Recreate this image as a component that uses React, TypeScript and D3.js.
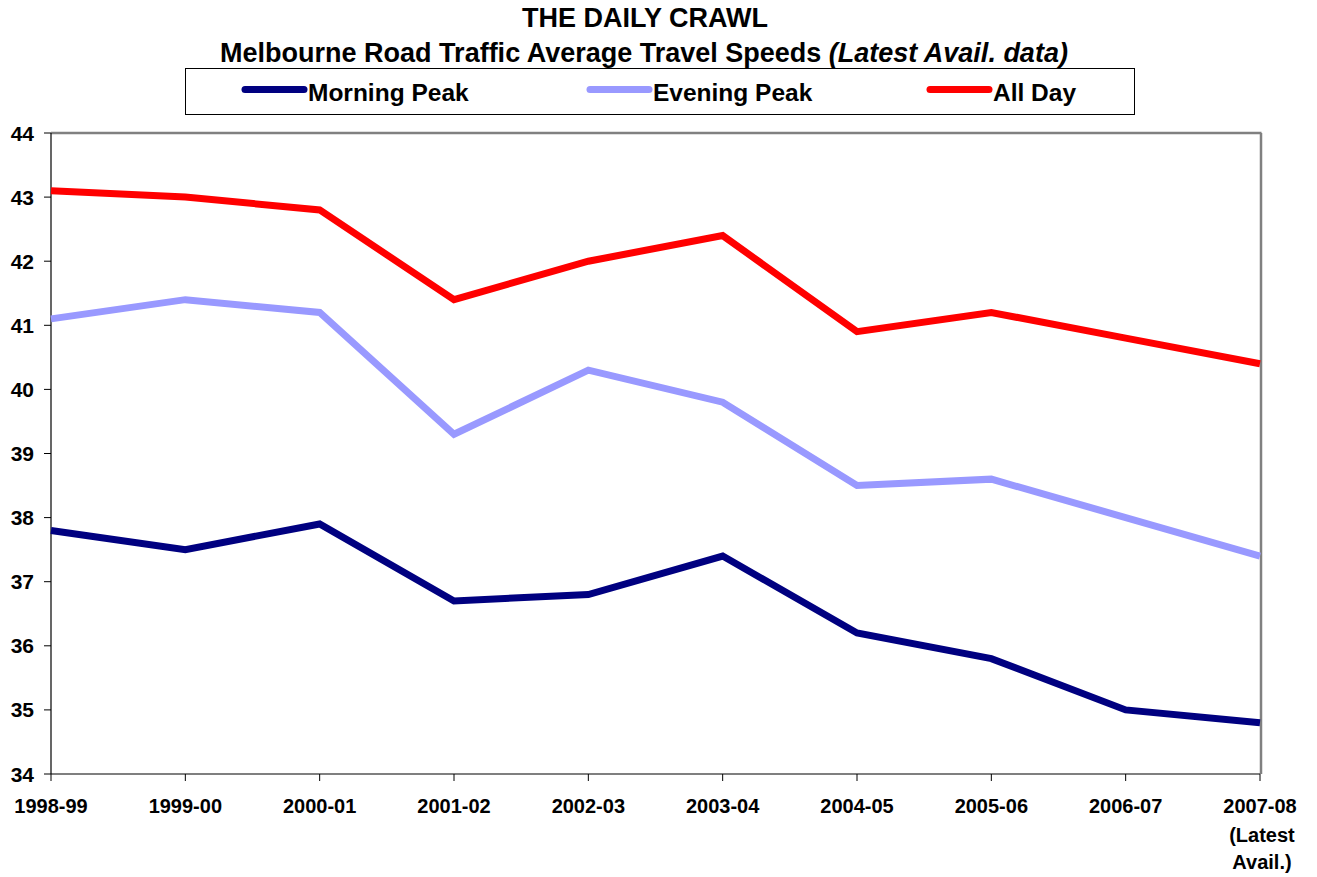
import React from "react";
import * as d3 from "d3";

const years = ["1998-99", "1999-00", "2000-01", "2001-02", "2002-03", "2003-04", "2004-05", "2005-06", "2006-07", "2007-08"];
const morningPeak = [37.8, 37.5, 37.9, 36.7, 36.8, 37.4, 36.2, 35.8, 35.0, 34.8];
const eveningPeak = [41.1, 41.4, 41.2, 39.3, 40.3, 39.8, 38.5, 38.6, 38.0, 37.4];
const allDay = [43.1, 43.0, 42.8, 41.4, 42.0, 42.4, 40.9, 41.2, 40.8, 40.4];
const yTicks = [34, 35, 36, 37, 38, 39, 40, 41, 42, 43, 44];

const series = [
  { name: "Morning Peak", values: morningPeak, color: "#000080", legendX: 245 },
  { name: "Evening Peak", values: eveningPeak, color: "#9999FF", legendX: 590 },
  { name: "All Day", values: allDay, color: "#FF0000", legendX: 930 },
];

const W = 1317;
const H = 877;
const left = 51;
const right = 1260;
const top = 133;
const bottom = 774;
const font = "Arial, 'Liberation Sans', sans-serif";

export default function App() {
  const x = d3.scalePoint<string>().domain(years).range([left, right]);
  const y = d3.scaleLinear().domain([34, 44]).range([bottom, top]);
  const line = d3
    .line<number>()
    .x((_, i) => x(years[i]) as number)
    .y((d) => y(d));

  return (
    <svg
      width={W}
      height={H}
      style={{ position: "absolute", left: 0, top: 0, background: "#fff" }}
      fontFamily={font}
      fontWeight="bold"
    >
      <rect width={W} height={H} fill="#fff" />
      <text x={645} y={27} textAnchor="middle" fontSize={27}>
        THE DAILY CRAWL
      </text>
      <text x={644} y={62} textAnchor="middle" fontSize={27}>
        Melbourne Road Traffic Average Travel Speeds{" "}
        <tspan fontStyle="italic">(Latest Avail. data)</tspan>
      </text>

      {/* legend */}
      <rect x={185.5} y={68.5} width={949} height={46} fill="#fff" stroke="#000" strokeWidth={1} />
      {series.map((s) => (
        <g key={s.name}>
          <line
            x1={s.legendX}
            x2={s.legendX + 59}
            y1={89.5}
            y2={89.5}
            stroke={s.color}
            strokeWidth={7}
            strokeLinecap="round"
          />
          <text x={s.legendX + 63} y={101} fontSize={24.5}>
            {s.name}
          </text>
        </g>
      ))}

      {/* plot frame */}
      <line x1={left} x2={right + 1.5} y1={top} y2={top} stroke="#808080" strokeWidth={2.5} />
      <line x1={right + 1} x2={right + 1} y1={top} y2={bottom} stroke="#808080" strokeWidth={2.5} />
      <line x1={left} x2={left} y1={top} y2={bottom} stroke="#000" strokeWidth={1.2} />
      <line x1={left} x2={right} y1={bottom} y2={bottom} stroke="#000" strokeWidth={1.2} />

      {yTicks.map((t) => (
        <g key={t}>
          <line x1={left - 7} x2={left} y1={y(t)} y2={y(t)} stroke="#000" strokeWidth={1} />
          <text x={34} y={y(t) + 7.5} textAnchor="end" fontSize={21}>
            {t}
          </text>
        </g>
      ))}

      {years.map((yr, i) => {
        const px = x(yr) as number;
        return (
          <g key={yr}>
            <line x1={px} x2={px} y1={bottom} y2={bottom + 7} stroke="#000" strokeWidth={1} />
            <text x={px} y={813} textAnchor="middle" fontSize={20}>
              {yr}
            </text>
            {i === years.length - 1 && (
              <>
                <text x={px + 2} y={842} textAnchor="middle" fontSize={20}>
                  (Latest
                </text>
                <text x={px + 2} y={869} textAnchor="middle" fontSize={20}>
                  Avail.)
                </text>
              </>
            )}
          </g>
        );
      })}

      {series.map((s) => (
        <path
          key={s.name}
          d={line(s.values) || ""}
          fill="none"
          stroke={s.color}
          strokeWidth={7}
          strokeLinejoin="miter"
        />
      ))}
    </svg>
  );
}
